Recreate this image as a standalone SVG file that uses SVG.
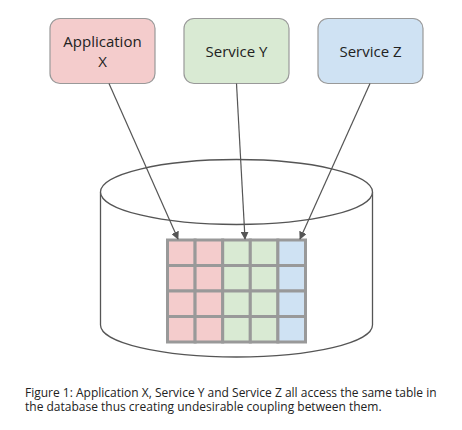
<svg xmlns="http://www.w3.org/2000/svg" width="462" height="430" viewBox="0 0 462 430">
<style>
.box{stroke:#999;stroke-width:1.2}
.lbl{font-family:"Open Sans","Liberation Sans",sans-serif;font-size:15px;fill:#222;text-anchor:middle}
.cyl{fill:#fff;stroke:#555;stroke-width:1.3}
.cell{stroke:#999;stroke-width:3}
.r{fill:#f4cccc}.g{fill:#d9ead3}.b{fill:#cfe2f3}
.conn{stroke:#555;stroke-width:1.2;fill:none}
.cap{font-family:"Open Sans","Liberation Sans",sans-serif;font-size:12px;fill:#222}
</style>
<defs>
<marker id="ah" viewBox="0 0 10 10" refX="9" refY="5" markerWidth="8" markerHeight="8" orient="auto" markerUnits="userSpaceOnUse">
<path d="M0,0 L10,5 L0,10 z" fill="#555"/>
</marker>
</defs>
<rect width="462" height="430" fill="#fff"/>
<g id="database">
<path class="cyl" d="M100.5,192 L100.5,325 A136,32 0 0 0 372.5,325 L372.5,192"/>
<ellipse class="cyl" cx="236.5" cy="192" rx="136" ry="32.5"/>
</g>
<g id="table">
<rect class="cell r" x="167.5" y="240" width="27.6" height="25.5"/>
<rect class="cell r" x="195.1" y="240" width="27.6" height="25.5"/>
<rect class="cell g" x="222.7" y="240" width="27.6" height="25.5"/>
<rect class="cell g" x="250.3" y="240" width="27.6" height="25.5"/>
<rect class="cell b" x="277.9" y="240" width="27.6" height="25.5"/>
<rect class="cell r" x="167.5" y="265.5" width="27.6" height="25.5"/>
<rect class="cell r" x="195.1" y="265.5" width="27.6" height="25.5"/>
<rect class="cell g" x="222.7" y="265.5" width="27.6" height="25.5"/>
<rect class="cell g" x="250.3" y="265.5" width="27.6" height="25.5"/>
<rect class="cell b" x="277.9" y="265.5" width="27.6" height="25.5"/>
<rect class="cell r" x="167.5" y="291" width="27.6" height="25.5"/>
<rect class="cell r" x="195.1" y="291" width="27.6" height="25.5"/>
<rect class="cell g" x="222.7" y="291" width="27.6" height="25.5"/>
<rect class="cell g" x="250.3" y="291" width="27.6" height="25.5"/>
<rect class="cell b" x="277.9" y="291" width="27.6" height="25.5"/>
<rect class="cell r" x="167.5" y="316.5" width="27.6" height="25.5"/>
<rect class="cell r" x="195.1" y="316.5" width="27.6" height="25.5"/>
<rect class="cell g" x="222.7" y="316.5" width="27.6" height="25.5"/>
<rect class="cell g" x="250.3" y="316.5" width="27.6" height="25.5"/>
<rect class="cell b" x="277.9" y="316.5" width="27.6" height="25.5"/>
</g>
<g id="appX">
<rect class="box r" x="50" y="18.5" width="105" height="65" rx="10"/>
<text class="lbl" x="102.5" y="47">Application</text>
<text class="lbl" x="102.5" y="67">X</text>
</g>
<g id="serviceY">
<rect class="box g" x="184" y="18.5" width="105" height="65" rx="10"/>
<text class="lbl" x="236.5" y="57">Service Y</text>
</g>
<g id="serviceZ">
<rect class="box b" x="318" y="18.5" width="105" height="65" rx="10"/>
<text class="lbl" x="370.5" y="57">Service Z</text>
</g>
<g id="connectors">
<line class="conn" x1="109" y1="83.5" x2="178" y2="239" marker-end="url(#ah)"/>
<line class="conn" x1="236.5" y1="83.5" x2="245" y2="239" marker-end="url(#ah)"/>
<line class="conn" x1="370" y1="83.5" x2="300" y2="239" marker-end="url(#ah)"/>
</g>
<text class="cap" x="25" y="397">Figure 1: Application X, Service Y and Service Z all access the same table in</text>
<text class="cap" x="25" y="411">the database thus creating undesirable coupling between them.</text>
</svg>
